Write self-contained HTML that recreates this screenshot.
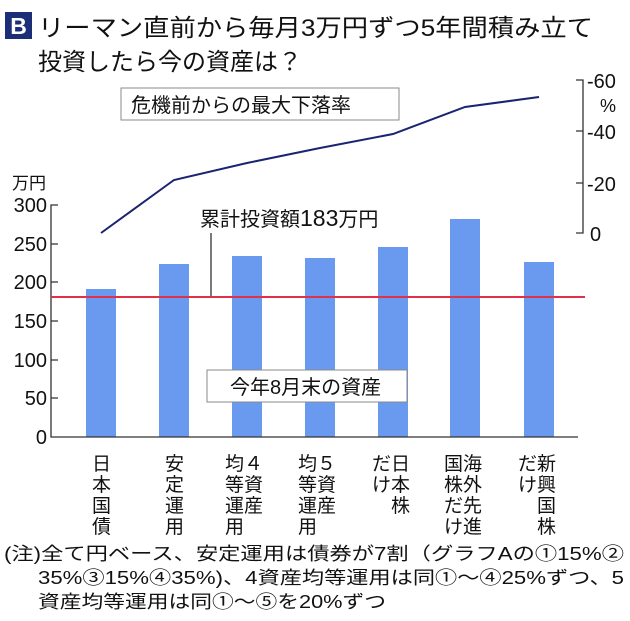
<!DOCTYPE html><html><head><meta charset="utf-8"><style>
body{margin:0;width:630px;height:621px;background:#fff;overflow:hidden;font-family:"Liberation Sans","Noto Sans CJK JP",sans-serif;color:#111}
svg{position:absolute;left:0;top:0}
text{font-family:"Liberation Sans","Noto Sans CJK JP",sans-serif;fill:#111}
</style></head><body>
<svg width="630" height="621" viewBox="0 0 630 621">
<rect x="5" y="12" width="27" height="27" fill="#1c2e78"/>
<text x="18.5" y="34" font-size="23" font-weight="bold" text-anchor="middle" style="fill:#fff">B</text>
<text x="38" y="36" font-size="24" textLength="555" lengthAdjust="spacingAndGlyphs">リーマン直前から毎月3万円ずつ5年間積み立て</text>
<text x="38" y="70" font-size="24">投資したら今の資産は？</text>
<g fill="#6a9af0">
<rect x="86" y="289" width="30" height="148"/>
<rect x="159" y="264" width="30" height="173"/>
<rect x="232" y="256" width="30" height="181"/>
<rect x="305" y="258" width="30" height="179"/>
<rect x="378" y="247" width="30" height="190"/>
<rect x="450" y="219" width="30" height="218"/>
<rect x="524" y="262" width="30" height="175"/>
</g>
<g stroke="#333" stroke-width="1.3" fill="none">
<path d="M58 205H51V437H578"/>
<path d="M51 244H58M51 282H58M51 321H58M51 360H58M51 398H58"/>
<path d="M576 80H583V233H576M576 131H583M576 183H583"/>
<path d="M211 233V297"/>
</g>
<g font-size="20" text-anchor="end">
<text x="47" y="212">300</text><text x="47" y="251">250</text><text x="47" y="289">200</text>
<text x="47" y="328">150</text><text x="47" y="367">100</text><text x="47" y="405">50</text><text x="47" y="444">0</text>
</g>
<text x="12" y="189" font-size="17">万円</text>
<g font-size="20">
<text x="587" y="88">-60</text><text x="600" y="112" font-size="18">%</text>
<text x="587" y="139">-40</text><text x="587" y="191">-20</text><text x="590" y="241">0</text>
</g>
<line x1="51" y1="297" x2="585" y2="297" stroke="#e0304a" stroke-width="2"/>
<polyline points="101,233 174,180 247,163 320,148 393,134 465,107 539,97" fill="none" stroke="#1a2470" stroke-width="2"/>
<rect x="121" y="88" width="278" height="32" fill="#fff" stroke="#888"/>
<text x="131" y="112" font-size="20">危機前からの最大下落率</text>
<text x="200" y="226" font-size="20">累計投資額<tspan font-size="23">183</tspan>万円</text>
<rect x="207" y="370" width="200" height="32" fill="#fff" stroke="#888"/>
<text x="230" y="394" font-size="20">今年8月末の資産</text>
<g font-size="19">
<text x="92" y="470">日</text><text x="92" y="491">本</text><text x="92" y="512">国</text><text x="92" y="533">債</text>
<text x="165" y="470">安</text><text x="165" y="491">定</text><text x="165" y="512">運</text><text x="165" y="533">用</text>
<text x="225" y="470">均４</text><text x="225" y="491">等資</text><text x="225" y="512">運産</text><text x="225" y="533">用</text>
<text x="298" y="470">均５</text><text x="298" y="491">等資</text><text x="298" y="512">運産</text><text x="298" y="533">用</text>
<text x="372" y="470">だ日</text><text x="372" y="491">け本</text><text x="391" y="512">株</text>
<text x="444" y="470">国海</text><text x="444" y="491">株外</text><text x="444" y="512">だ先</text><text x="444" y="533">け進</text>
<text x="518" y="470">だ新</text><text x="518" y="491">け興</text><text x="537" y="512">国</text><text x="537" y="533">株</text>
</g>
<g font-size="18">
<text x="4" y="560" textLength="620" lengthAdjust="spacingAndGlyphs">(注)全て円ベース、安定運用は債券が7割（グラフAの①15%②</text>
<text x="38" y="584" textLength="586" lengthAdjust="spacingAndGlyphs">35%③15%④35%)、4資産均等運用は同①～④25%ずつ、5</text>
<text x="38" y="608" font-size="18" textLength="348" lengthAdjust="spacingAndGlyphs">資産均等運用は同①～⑤を20%ずつ</text>
</g>
</svg></body></html>
